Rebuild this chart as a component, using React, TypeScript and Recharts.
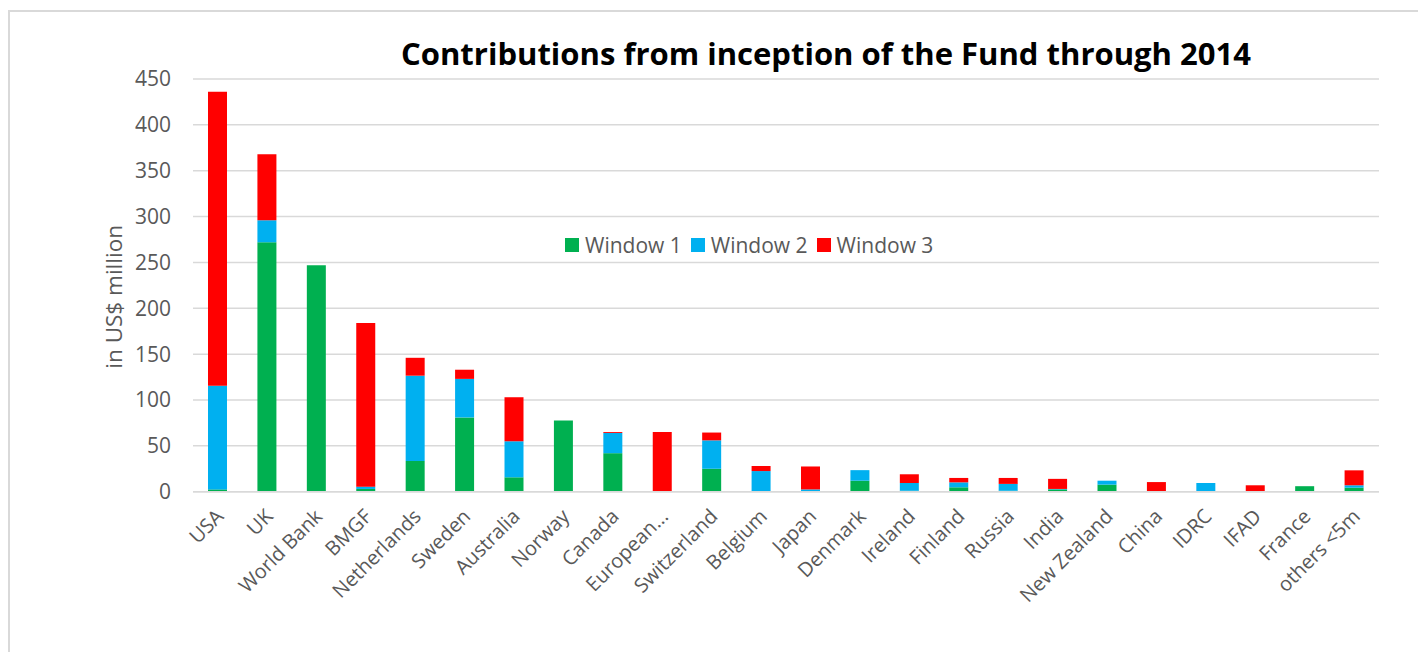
import React from "react";
import { BarChart, Bar, XAxis, YAxis, CartesianGrid, Legend } from "recharts";

const categories = [
  "USA", "UK", "World Bank", "BMGF", "Netherlands", "Sweden", "Australia", "Norway",
  "Canada", "European...", "Switzerland", "Belgium", "Japan", "Denmark", "Ireland",
  "Finland", "Russia", "India", "New Zealand", "China", "IDRC", "IFAD", "France", "others <5m",
];
const window1 = [2.5, 272, 247, 3, 33.5, 81, 15.7, 77.6, 42, 0, 25, 0, 0, 12, 1, 4.8, 1, 2.5, 7.7, 0, 0, 0, 6, 4.4];
const window2 = [113, 24, 0, 2.5, 93, 42, 39.3, 0, 22, 0, 31, 22.5, 2.5, 11.5, 8.5, 5.4, 7.5, 0.5, 4.3, 0, 9.5, 0, 0, 2.6];
const window3 = [320.5, 72, 0, 178.5, 19.5, 10, 48, 0, 1, 65, 8.5, 5.5, 25, 0, 9.5, 4.8, 6.5, 11, 0, 10.5, 0, 7, 0, 16.3];
const yTicks = [0, 50, 100, 150, 200, 250, 300, 350, 400, 450];
const seriesNames = ["Window 1", "Window 2", "Window 3"];
const seriesColors = ["#00B050", "#00B0F0", "#FF0000"];
const titleText = "Contributions from inception of the Fund through 2014";
const yLabelText = "in US$ million";

const data = categories.map((c, i) => ({
  name: c,
  w1: window1[i],
  w2: window2[i],
  w3: window3[i],
}));

const FONT = "'Open Sans', sans-serif";
const TEXT = "#595959";

const XTick = (props: any) => {
  const { x, y, payload } = props;
  const px = x + 7;
  const py = y + 26;
  return (
    <text
      x={px}
      y={py}
      transform={`rotate(-45, ${px}, ${py})`}
      textAnchor="end"
      fill={TEXT}
      fontSize={20}
      fontFamily={FONT}
    >
      {payload.value}
    </text>
  );
};

const LegendContent = () => (
  <div style={{ display: "flex", alignItems: "center", fontFamily: FONT, fontSize: 21, color: TEXT, whiteSpace: "nowrap" }}>
    {seriesNames.map((n, i) => (
      <div key={n} style={{ display: "flex", alignItems: "center", marginRight: i < 2 ? 9 : 0 }}>
        <div style={{ width: 14, height: 14, background: seriesColors[i], marginRight: 6 }} />
        <span style={{ lineHeight: "28px" }}>{n}</span>
      </div>
    ))}
  </div>
);

const YLabel = (props: any) => {
  const vb = props.viewBox || {};
  const cx = 112;
  const cy = (vb.y ?? 67) + (vb.height ?? 412) / 2 + 11.5;
  return (
    <text
      x={cx}
      y={cy}
      transform={`rotate(-90, ${cx}, ${cy})`}
      textAnchor="middle"
      fill={TEXT}
      fontSize={22.5}
      fontFamily={FONT}
    >
      {yLabelText}
    </text>
  );
};

export default function App() {
  return (
    <div
      style={{
        position: "relative",
        marginTop: 2,
        width: 1411,
        height: 640,
        borderTop: "2px solid #d9d9d9",
        borderLeft: "2px solid #d9d9d9",
        borderRight: "2px solid #d9d9d9",
        background: "#fff",
        overflow: "hidden",
      }}
    >
      <svg width={1411} height={80} style={{ position: "absolute", left: 0, top: 0, pointerEvents: "none" }}>
        <text
          x={391}
          y={53}
          textLength={850}
          lengthAdjust="spacingAndGlyphs"
          fontFamily={FONT}
          fontWeight={700}
          fontSize={31}
          fill="#000"
        >
          {titleText}
        </text>
      </svg>
      <BarChart
        width={1409}
        height={638}
        data={data}
        margin={{ top: 67, right: 40, left: 0, bottom: 0 }}
        barSize={19}
        style={{ position: "absolute", left: 0, top: 0 }}
      >
        <CartesianGrid vertical={false} stroke="#d9d9d9" strokeWidth={1.5} />
        <XAxis
          dataKey="name"
          interval={0}
          height={158.3}
          axisLine={{ stroke: "#d9d9d9", strokeWidth: 1.5 }}
          tickLine={false}
          tickSize={0}
          tickMargin={0}
          tick={<XTick />}
        />
        <YAxis
          width={183}
          domain={[0, 450]}
          ticks={yTicks}
          interval={0}
          axisLine={false}
          tickLine={false}
          tickSize={0}
          tickMargin={22}
          tick={{ fill: TEXT, fontSize: 21, fontFamily: FONT }}
          label={<YLabel />}
        />
        <Legend
          layout="horizontal"
          verticalAlign="middle"
          align="center"
          content={<LegendContent />}
          wrapperStyle={{ position: "absolute", left: 555, top: 219, width: "auto", height: "auto" }}
        />
        <Bar dataKey="w1" name={seriesNames[0]} stackId="a" fill={seriesColors[0]} isAnimationActive={false} />
        <Bar dataKey="w2" name={seriesNames[1]} stackId="a" fill={seriesColors[1]} isAnimationActive={false} />
        <Bar dataKey="w3" name={seriesNames[2]} stackId="a" fill={seriesColors[2]} isAnimationActive={false} />
      </BarChart>
    </div>
  );
}
